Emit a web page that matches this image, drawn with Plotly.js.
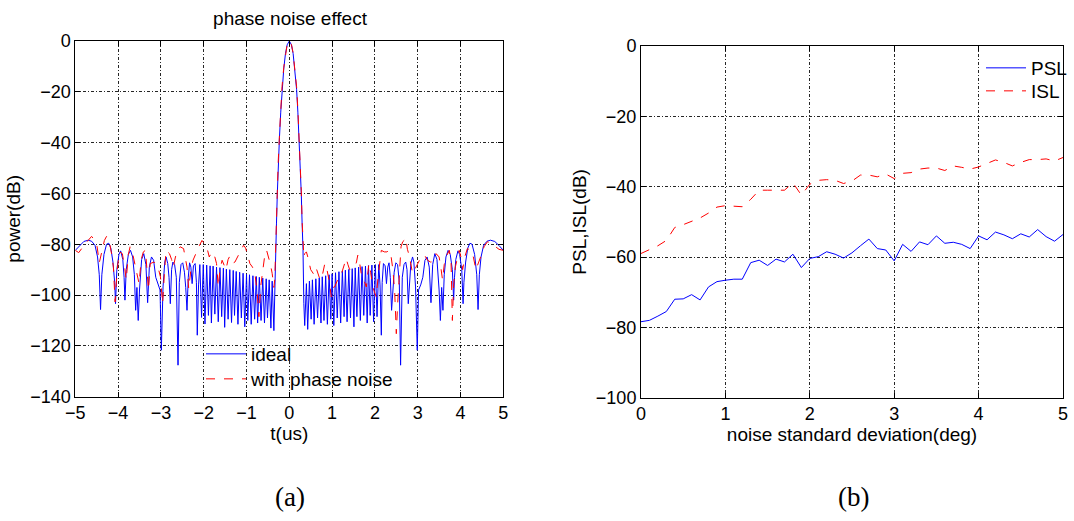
<!DOCTYPE html>
<html>
<head>
<meta charset="utf-8">
<script src="https://cdn.plot.ly/plotly-3.0.1.min.js"></script>
<style>html,body{margin:0;padding:0;background:#fff;}#chart{width:1074px;height:521px;}</style>
</head>
<body>
<div id="chart"></div>
<script>
// ---- (a) phase noise effect: autocorrelation power (dB) vs t (us) ----
const idealT = [
-5.00,-4.90,-4.80,-4.70,-4.62,-4.54,-4.48,-4.44,-4.41,-4.38,-4.33,-4.27,-4.22,-4.17,-4.12,-4.08,-4.06,-4.03,-3.98,-3.94,
-3.89,-3.86,-3.84,-3.81,-3.76,-3.71,-3.66,-3.62,-3.59,-3.56,-3.53,-3.50,-3.45,-3.40,-3.35,-3.31,-3.27,-3.22,-3.17,-3.12,
-3.07,-3.02,-2.99,-2.95,-2.91,-2.88,-2.84,-2.81,-2.78,-2.75,-2.72,-2.68,-2.64,-2.60,-2.57,-2.53,-2.49,-2.45,-2.42,-2.39,
-2.36,-2.33,-2.30,-2.27,-2.24,-2.20,-2.17,-2.15,-2.12,-2.09,
-2.05,-2.01,-1.97,-1.93,-1.89,-1.85,-1.82,-1.78,-1.74,-1.70,-1.66,-1.62,-1.58,-1.54,-1.51,-1.47,-1.43,-1.39,-1.35,-1.31,
-1.28,-1.24,-1.20,-1.16,-1.12,-1.08,-1.04,-1.00,-0.97,-0.93,-0.89,-0.85,-0.81,-0.77,-0.74,-0.70,-0.66,-0.62,-0.58,-0.54,
-0.51,-0.47,-0.43,-0.40,-0.36,-0.34,
-0.32,-0.30,-0.28,-0.26,-0.23,-0.20,-0.17,-0.13,-0.09,-0.05,0.00,0.05,0.09,0.13,0.17,0.20,0.23,0.26,0.28,0.30,0.32,0.34,
0.36,0.40,0.43,0.47,0.51,0.54,0.58,0.62,0.66,0.70,0.74,0.77,0.81,0.85,0.89,0.93,0.97,1.00,1.04,1.08,
1.12,1.16,1.20,1.24,1.28,1.31,1.35,1.39,1.43,1.47,1.51,1.54,1.58,1.62,1.66,1.70,1.74,1.78,1.82,1.85,
1.89,1.93,1.97,2.01,2.05,2.09,2.12,2.15,
2.17,2.20,2.24,2.27,2.30,2.33,2.36,2.39,2.42,2.45,2.49,2.53,2.57,2.60,2.64,2.68,2.72,2.75,2.78,2.81,
2.84,2.88,2.91,2.95,2.99,3.02,3.07,3.12,3.17,3.22,3.27,3.31,3.35,3.40,3.45,3.50,3.53,3.56,3.59,3.62,
3.66,3.71,3.76,3.81,3.84,3.86,3.89,3.94,3.98,4.03,4.06,4.08,4.12,4.17,4.22,4.27,4.33,4.38,4.41,4.44,
4.48,4.54,4.62,4.70,4.80,4.90,5.00];
const idealP = [
-82.4,-80.5,-78.9,-78.4,-78.8,-80.4,-85,-92,-105.7,-92,-84,-80,-79.6,-81.5,-87,-95,-103.4,-90,-84,-82.6,
-86,-93,-102,-90,-84,-82.4,-85,-92,-106,-97,-110,-98,-86,-83.7,-88,-103,-89,-85,-86.3,-93,
-96,-98,-121.7,-96.8,-87,-85,-87.6,-93,-103.4,-90,-87,-88,-93,-127.6,-95,-88,-87.3,-91,-97,-106,
-93,-87.3,-89,-95.5,-88.5,-87.6,-95,-115.8,-96,-88,
-108.8,-88.0,-111.4,-88.2,-108.0,-88.5,-111.0,-88.6,-107.5,-89.0,-110.5,-89.2,-108.5,-89.4,-112.7,-89.8,-109.5,-90.0,-110.8,-90.3,
-108.0,-90.7,-111.5,-91.0,-109.0,-91.4,-112.5,-91.8,-110.0,-92.0,-111.5,-92.4,-109.5,-92.7,-111.0,-93.0,-110.0,-93.3,-111.0,-93.6,
-109.0,-94.0,-113.0,-94.5,-114.0,-95.5,
-82,-72,-60,-49,-38,-28,-19,-11,-5,-1.5,0,-1.5,-5,-11,-19,-28,-38,-49,-60,-72,-82,-103.4,
-112.0,-95.5,-113.5,-94.5,-109.5,-94.0,-111.5,-93.6,-109.0,-93.2,-111.0,-92.8,-110.0,-92.4,-111.5,-92.0,-109.5,-91.6,-112.0,-91.2,
-109.0,-90.8,-111.0,-90.5,-108.5,-90.2,-110.5,-89.9,-109.0,-89.6,-112.5,-89.3,-108.5,-89.0,-110.0,-88.8,-108.0,-88.6,-111.0,-88.4,
-108.0,-88.2,-110.5,-88.0,-108.5,-88.0,-96,-115.8,
-95,-87.6,-88.5,-95.5,-89,-87.3,-93,-106,-97,-91,-87.3,-88,-95,-127.6,-93,-88,-87,-90,-103.4,-93,
-87.6,-85,-87,-96.8,-121.7,-98,-96,-93,-86.3,-85,-89,-103,-88,-83.7,-86,-98,-110,-97,-106,-92,
-85,-82.4,-84,-90,-102,-93,-86,-82.6,-84,-90,-103.4,-95,-87,-81.5,-79.6,-80,-84,-92,-105.7,-92,
-85,-80.4,-78.8,-78.4,-78.9,-80.5,-82.4];

const noisyT = [
-5.00,-4.92,-4.80,-4.70,-4.62,-4.54,-4.49,-4.44,-4.38,-4.32,-4.27,-4.21,-4.15,-4.11,-4.07,-4.02,-3.97,-3.90,-3.84,-3.81,
-3.76,-3.72,-3.66,-3.60,-3.56,-3.51,-3.46,-3.41,-3.36,-3.32,-3.29,-3.25,-3.16,-3.10,-3.06,-3.01,-2.96,-2.92,-2.88,-2.80,
-2.75,-2.71,-2.66,-2.60,-2.55,-2.47,-2.43,-2.39,-2.35,-2.30,-2.25,-2.16,-2.10,-2.04,-1.97,-1.93,-1.87,-1.81,-1.74,-1.70,
-1.66,-1.62,-1.57,-1.52,-1.48,-1.43,-1.40,-1.34,-1.27,-1.21,-1.14,-1.07,-1.02,-0.98,-0.92,-0.86,-0.80,-0.75,-0.71,-0.67,
-0.62,-0.57,-0.53,-0.48,-0.44,-0.40,-0.36,-0.34,
-0.32,-0.30,-0.28,-0.26,-0.23,-0.20,-0.17,-0.13,-0.09,-0.05,0.00,0.05,0.09,0.13,0.17,0.20,0.23,0.26,0.28,0.30,0.32,
0.34,0.36,0.40,0.44,0.50,0.56,0.60,0.64,0.70,0.75,0.80,0.83,0.88,0.94,0.98,1.02,1.06,1.12,1.18,1.22,
1.28,1.33,1.37,1.41,1.47,1.53,1.57,1.60,1.64,1.68,1.74,1.80,1.86,1.90,1.95,1.99,2.03,2.08,2.12,2.15,
2.22,2.28,2.34,2.38,2.42,2.46,2.48,2.50,2.53,2.56,2.61,2.65,2.69,2.72,2.76,2.81,2.88,2.93,2.96,3.02,
3.08,3.16,3.23,3.30,3.35,3.43,3.50,3.54,3.58,3.62,3.66,3.74,3.78,3.81,3.84,3.88,3.97,4.01,4.05,4.10,
4.16,4.24,4.30,4.36,4.41,4.47,4.55,4.63,4.70,4.74,4.82,4.90,5.00];
const noisyP = [
-82.4,-83.3,-80.5,-78.5,-76.9,-78.5,-81,-87.3,-83,-78.5,-76.9,-78.5,-84,-89,-102.7,-90,-83,-83.7,-90,-94,
-84,-81,-83.7,-88,-91,-95.5,-86,-83,-82.4,-90,-98,-87.6,-87,-88,-89.5,-92.9,-103.4,-92,-82.4,-83.7,
-86,-89,-85,-82,-81,-81.7,-85,-89,-97.5,-90,-86.3,-82.4,-80.5,-78.5,-80,-81,-85,-83,-85,-87.6,
-96.8,-90,-86.3,-88,-90,-86,-85,-87.6,-87,-85,-82.4,-80.4,-81.5,-83.7,-87.6,-89,-92,-99,-108.5,-96.8,
-90,-84,-82.4,-85,-88,-91.5,-97,-94,
-80,-71,-59,-48,-37,-27,-18,-10.5,-4.8,-1.4,0,-1.4,-4.8,-10.5,-18,-27,-37,-48,-59,-71,-80,
-85,-83.7,-83,-85.5,-90,-91.5,-89,-90,-93,-94,-89,-87.6,-90,-95,-100.7,-97,-96.8,-94,-92,-91.5,
-88,-85.6,-88,-90,-89.5,-89,-87,-84.3,-87,-91.5,-94,-96.8,-87.6,-91,-96.8,-99,-100.7,-92,-85,-82.4,
-83,-83,-82.4,-85,-90,-98,-106,-115.2,-104,-96.8,-81,-79,-78.4,-77.5,-82,-85,-91.5,-90,-89,-87,
-85,-84.3,-86.3,-87,-86.9,-83.7,-85,-89,-94,-88,-85,-82.4,-87.6,-110,-96,-88.9,-82.4,-85,-90,-85,
-81.7,-82.4,-85,-90,-88,-85,-81,-79,-79.5,-80,-81,-82,-82.4];

// ---- (b) PSL / ISL (dB) vs noise standard deviation (deg) ----
const sigmaDeg = [0,0.1,0.2,0.3,0.4,0.5,0.6,0.7,0.8,0.9,1.0,1.1,1.2,1.3,1.4,1.5,1.6,1.7,1.8,1.9,
2.0,2.1,2.2,2.3,2.4,2.5,2.6,2.7,2.8,2.9,3.0,3.1,3.2,3.3,3.4,3.5,3.6,3.7,3.8,3.9,
4.0,4.1,4.2,4.3,4.4,4.5,4.6,4.7,4.8,4.9,5.0];
const pslDb = [-78.4,-78.0,-76.8,-75.5,-72.0,-71.9,-70.7,-72.2,-68.5,-67.0,-66.6,-66.3,-66.3,-61.6,-60.9,-62.4,-60.6,-61.4,-59.2,-63.0,
-60.4,-59.9,-58.5,-59.2,-60.3,-58.8,-56.8,-54.9,-57.6,-58.0,-61.1,-56.4,-58.4,-55.7,-56.5,-54.0,-56.1,-55.8,-56.4,-57.6,
-54.0,-55.1,-52.9,-53.7,-54.8,-53.4,-54.3,-52.2,-54.2,-55.5,-53.6];
const islDb = [-59.0,-58.0,-56.8,-55.3,-51.6,-50.8,-49.9,-48.9,-47.5,-45.8,-45.4,-45.5,-45.7,-43.6,-41.0,-41.0,-41.0,-41.0,-38.9,-42.4,
-39.3,-38.2,-38.0,-38.2,-39.1,-38.4,-36.7,-36.7,-37.2,-36.4,-37.7,-36.2,-36.0,-35.0,-34.7,-34.7,-35.4,-34.1,-34.5,-35.0,
-34.4,-33.3,-32.4,-33.1,-34.1,-33.1,-32.3,-32.3,-32.1,-32.7,-31.7];

const FONT = 'Liberation Sans, Arial, sans-serif';
const BLUE = '#0000ff', RED = '#ff0000';

const traces = [
  {x: idealT, y: idealP, type: 'scatter', mode: 'lines', name: 'ideal', showlegend: true,
   line: {color: BLUE, width: 1}, xaxis: 'x', yaxis: 'y', legend: 'legend'},
  {x: noisyT, y: noisyP, type: 'scatter', mode: 'lines', name: 'with phase noise', showlegend: true,
   line: {color: RED, width: 1, dash: 'dash'}, xaxis: 'x', yaxis: 'y', legend: 'legend3'},
  {x: sigmaDeg, y: pslDb, type: 'scatter', mode: 'lines', name: 'PSL', showlegend: true,
   line: {color: BLUE, width: 1}, xaxis: 'x2', yaxis: 'y2', legend: 'legend2'},
  {x: sigmaDeg, y: islDb, type: 'scatter', mode: 'lines', name: 'ISL', showlegend: true,
   line: {color: RED, width: 1, dash: 'dash'}, xaxis: 'x2', yaxis: 'y2', legend: 'legend4'}
];

const W = 1074, H = 521;
function axisBase(extra) {
  return Object.assign({
    showline: true, mirror: 'ticks', linecolor: '#000', linewidth: 1,
    ticks: 'inside', ticklen: 5, tickcolor: '#000', tickwidth: 1,
    showgrid: true, gridcolor: 'rgba(0,0,0,0.85)', gridwidth: 1, griddash: '3px,2px,1px,2px',
    zeroline: false, tickfont: {family: FONT, size: 18, color: '#000'},
    fixedrange: true
  }, extra);
}
function legendAt(xLeft, yTop) {
  return {x: xLeft / W, xanchor: 'left', y: (H - yTop) / H, yanchor: 'top', bgcolor: 'rgba(0,0,0,0)', borderwidth: 0,
    itemwidth: 40, font: {family: FONT, size: 19, color: '#000'}, tracegroupgap: 0, visible: true};
}

const layout = {
  width: W, height: H,
  margin: {l: 0, r: 0, t: 0, b: 0},
  showlegend: true,
  paper_bgcolor: '#fff', plot_bgcolor: '#fff',
  font: {family: FONT, color: '#000'},
  title: {text: 'phase noise effect', font: {family: FONT, size: 19, color: '#000'},
          x: 290 / W, xanchor: 'center', y: 1 - 18 / H, yanchor: 'middle', xref: 'paper', yref: 'paper'},
  xaxis: axisBase({domain: [75.3 / W, 503.3 / W], anchor: 'y', range: [-5, 5], tickvals: [-5,-4,-3,-2,-1,0,1,2,3,4,5],
    title: {text: 't(us)', font: {family: FONT, size: 19, color: '#000'}, standoff: 0}}),
  yaxis: axisBase({domain: [(H - 396.7) / H, (H - 41) / H], anchor: 'x', range: [-140, 0], tickvals: [-140,-120,-100,-80,-60,-40,-20,0],
    title: {text: 'power(dB)', font: {family: FONT, size: 19, color: '#000'}, standoff: 4}}),
  xaxis2: axisBase({domain: [641 / W, 1063 / W], anchor: 'y2', range: [0, 5], tickvals: [0,1,2,3,4,5],
    title: {text: 'noise standard deviation(deg)', font: {family: FONT, size: 19, color: '#000'}, standoff: 2}}),
  yaxis2: axisBase({domain: [(H - 397.7) / H, (H - 46) / H], anchor: 'x2', range: [-100, 0], tickvals: [-100,-80,-60,-40,-20,0],
    title: {text: 'PSL,ISL(dB)', font: {family: FONT, size: 19, color: '#000'}, standoff: 4}}),
  legend: legendAt(201, 335),
  legend3: legendAt(201, 360),
  legend2: legendAt(981, 49),
  legend4: legendAt(981, 72),
  annotations: [
    {text: '(a)', x: 290 / W, y: 1 - 497 / H, xref: 'paper', yref: 'paper', xanchor: 'center', yanchor: 'middle',
     showarrow: false, font: {family: 'Liberation Serif, Times New Roman, serif', size: 27, color: '#000'}},
    {text: '(b)', x: 853 / W, y: 1 - 497 / H, xref: 'paper', yref: 'paper', xanchor: 'center', yanchor: 'middle',
     showarrow: false, font: {family: 'Liberation Serif, Times New Roman, serif', size: 27, color: '#000'}}
  ]
};

Plotly.newPlot('chart', traces, layout, {displayModeBar: false, staticPlot: true});
</script>
</body>
</html>
